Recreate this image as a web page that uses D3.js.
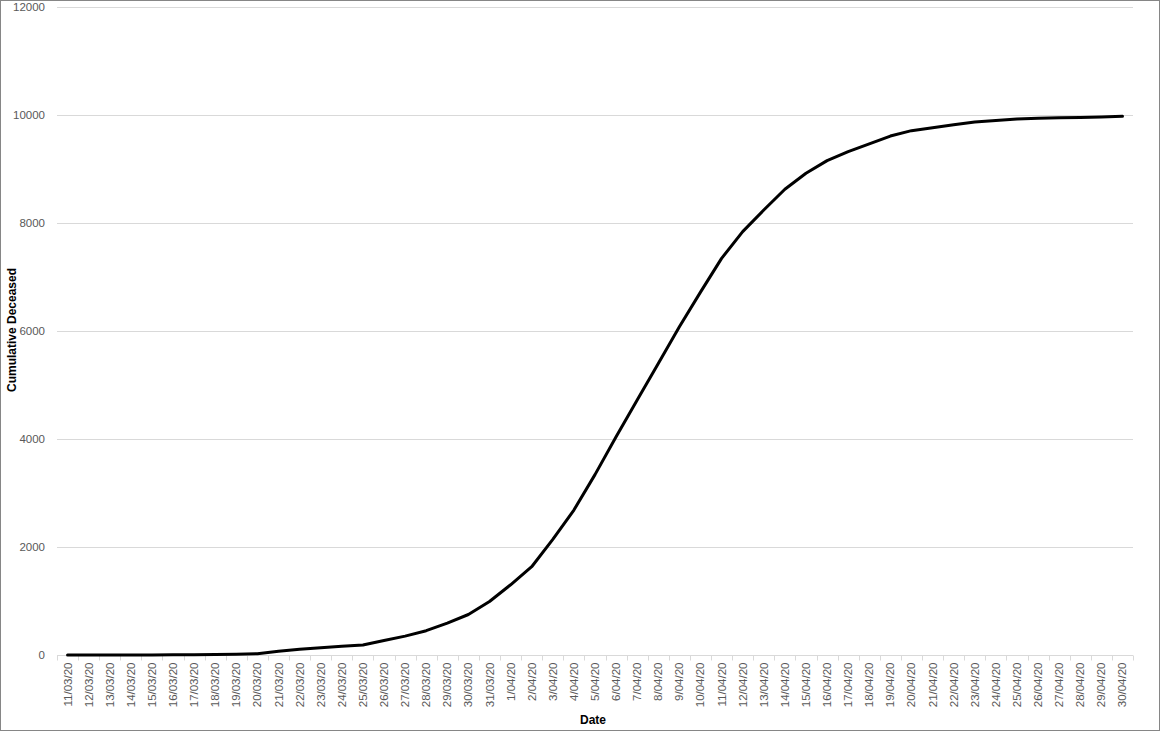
<!DOCTYPE html>
<html>
<head>
<meta charset="utf-8">
<script src="https://cdn.jsdelivr.net/npm/d3@7"></script>
<style>
  html, body { margin: 0; padding: 0; background: #fff; }
  svg { display: block; }
</style>
</head>
<body>
<svg id="chart" width="1161" height="732"></svg>
<script>
const dates = [
  "11/03/20","12/03/20","13/03/20","14/03/20","15/03/20","16/03/20","17/03/20","18/03/20","19/03/20","20/03/20",
  "21/03/20","22/03/20","23/03/20","24/03/20","25/03/20","26/03/20","27/03/20","28/03/20","29/03/20","30/03/20",
  "31/03/20","1/04/20","2/04/20","3/04/20","4/04/20","5/04/20","6/04/20","7/04/20","8/04/20","9/04/20",
  "10/04/20","11/04/20","12/04/20","13/04/20","14/04/20","15/04/20","16/04/20","17/04/20","18/04/20","19/04/20",
  "20/04/20","21/04/20","22/04/20","23/04/20","24/04/20","25/04/20","26/04/20","27/04/20","28/04/20","29/04/20",
  "30/04/20"
];
const deceased = [
  0, 0, 1, 1, 2, 3, 5, 10, 15, 25,
  70, 105, 135, 160, 185, 270, 350, 450, 590, 750,
  990, 1300, 1635, 2140, 2685, 3340, 4040, 4720, 5400, 6080,
  6720, 7345, 7840, 8240, 8625, 8920, 9155, 9322, 9465, 9610,
  9710, 9765, 9820, 9870, 9900, 9925, 9940, 9950, 9955, 9962,
  9975
];
const yTicks = [0, 2000, 4000, 6000, 8000, 10000, 12000];

(function () {
const svg = d3.select("#chart");
const W = 1161, H = 732;
const pLeft = 57, pRight = 1133, pTop = 7, pBottom = 655;
const font = "'Liberation Sans', Arial, sans-serif";

svg.append("rect").attr("x", 0.5).attr("y", 0.5).attr("width", W - 2).attr("height", H - 2)
  .attr("fill", "#fff").attr("stroke", "#868686").attr("stroke-width", 1);

const x = d3.scaleBand().domain(dates).range([pLeft, pRight]).padding(0);
const y = d3.scaleLinear().domain([0, 12000]).range([pBottom, pTop]);

// gridlines
svg.append("g").selectAll("line").data(yTicks.filter(d => d > 0)).join("line")
  .attr("x1", pLeft).attr("x2", pRight)
  .attr("y1", d => Math.round(y(d)) + 0.5).attr("y2", d => Math.round(y(d)) + 0.5)
  .attr("stroke", "#d9d9d9").attr("stroke-width", 1);

// y axis labels
const yAxis = d3.axisLeft(y).tickValues(yTicks).tickSize(0).tickPadding(0).tickFormat(d3.format("d"));
const gy = svg.append("g").attr("transform", `translate(${pLeft - 12},0)`).call(yAxis);
gy.select(".domain").remove();
gy.selectAll("text").attr("font-family", font).attr("font-size", "11.5px").attr("fill", "#595959");

// x axis
const gx = svg.append("g").attr("transform", `translate(0,${pBottom + 0.5})`);
gx.append("line").attr("x1", pLeft).attr("x2", pRight).attr("stroke", "#d9d9d9").attr("stroke-width", 1);
const boundaries = dates.map(d => x(d)).concat([pRight]);
gx.selectAll("line.tick").data(boundaries).join("line").attr("class", "tick")
  .attr("x1", d => Math.round(d) + 0.5).attr("x2", d => Math.round(d) + 0.5)
  .attr("y1", 0).attr("y2", 5).attr("stroke", "#d9d9d9");
gx.selectAll("text").data(dates).join("text")
  .attr("transform", d => `translate(${x(d) + x.bandwidth() / 2 + 4},7) rotate(-90)`)
  .attr("text-anchor", "end")
  .attr("font-family", font).attr("font-size", "11.5px").attr("fill", "#595959")
  .text(d => d);

// line
const line = d3.line()
  .x((d, i) => x(dates[i]) + x.bandwidth() / 2)
  .y(d => y(d));
svg.append("path").datum(deceased).attr("d", line)
  .attr("fill", "none").attr("stroke", "#000").attr("stroke-width", 3)
  .attr("stroke-linejoin", "round").attr("stroke-linecap", "round");

// titles
svg.append("text").attr("x", 593).attr("y", 724).attr("text-anchor", "middle")
  .attr("font-family", font).attr("font-size", "12px").attr("font-weight", "bold").attr("fill", "#000")
  .text("Date");
svg.append("text").attr("transform", `translate(16,330) rotate(-90)`).attr("text-anchor", "middle")
  .attr("font-family", font).attr("font-size", "12px").attr("font-weight", "bold").attr("fill", "#000")
  .text("Cumulative Deceased");
})();
</script>
</body>
</html>
